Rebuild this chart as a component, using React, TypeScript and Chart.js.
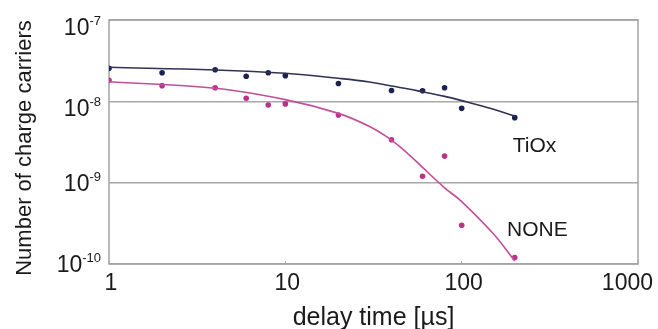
import React, { useEffect, useRef } from "react";
import { Chart, registerables } from "chart.js";

Chart.register(...registerables);

const xTicks = [1, 10, 100, 1000];
const yExponents = [-10, -9, -8, -7];
const delayTimes = [1, 2, 4, 6, 8, 10, 20, 40, 60, 80, 100, 200];
const tioxValues = [2.55e-8, 2.25e-8, 2.45e-8, 2.03e-8, 2.25e-8, 2.07e-8, 1.66e-8, 1.36e-8, 1.35e-8, 1.47e-8, 8.2e-9, 6.3e-9];
const noneValues = [1.81e-8, 1.56e-8, 1.47e-8, 1.09e-8, 9.0e-9, 9.3e-9, 6.8e-9, 3.37e-9, 1.2e-9, 2.12e-9, 3.0e-10, 1.2e-10];
const fitTimes = [1, 4, 10, 20, 30, 40, 50, 60, 80, 100, 150, 200];
const tioxFit = [2.62e-8, 2.43e-8, 2.21e-8, 1.92e-8, 1.73e-8, 1.54e-8, 1.42e-8, 1.31e-8, 1.15e-8, 1.02e-8, 8.03e-9, 6.59e-9];
const noneFit = [1.74e-8, 1.45e-8, 1.05e-8, 7.11e-9, 4.9e-9, 3.34e-9, 2.23e-9, 1.54e-9, 8.65e-10, 5.86e-10, 2.4e-10, 1.09e-10];
const seriesLabels = ["TiOx", "NONE"];
const labelX = [195, 181];
const labelY = [2.38e-9, 2.2e-10];
const xTitle = "delay time [µs]";
const yTitle = "Number of charge carriers";

const FONT = "'Liberation Sans', Arial, sans-serif";
const TIOX_COLOR = "#1d2150";
const NONE_COLOR = "#b8328a";

const textPlugin = {
  id: "customText",
  beforeDatasetsDraw(chart: any) {
    const { ctx, chartArea: a, scales } = chart;
    ctx.save();
    ctx.strokeStyle = "#a3a3a3";
    ctx.lineWidth = 1.5;
    ctx.strokeRect(a.left, a.top, a.right - a.left, a.bottom - a.top);
    ctx.lineWidth = 1;
    for (const t of xTicks) {
      const px = scales.x.getPixelForValue(t);
      ctx.beginPath();
      ctx.moveTo(px, a.bottom);
      ctx.lineTo(px, a.bottom - 3);
      ctx.stroke();
    }
    ctx.restore();
  },
  afterDraw(chart: any) {
    const { ctx, chartArea: a, scales } = chart;
    ctx.save();
    ctx.fillStyle = "#1a1a1a";
    yExponents.forEach((e, i) => {
      const py = scales.y.getPixelForValue(Math.pow(10, e));
      const base = py + (i >= 2 ? 15 : 8);
      const sup = "-" + String(-e);
      ctx.font = `13px ${FONT}`;
      const supW = ctx.measureText(sup).width;
      const right = a.left - 8;
      ctx.textAlign = "left";
      ctx.textBaseline = "alphabetic";
      ctx.fillText(sup, right - supW, base - 10);
      ctx.font = `23px ${FONT}`;
      ctx.textAlign = "right";
      ctx.fillText("10", right - supW, base);
    });
    ctx.font = `23px ${FONT}`;
    ctx.textBaseline = "alphabetic";
    xTicks.forEach((t, i) => {
      const px = scales.x.getPixelForValue(t);
      if (i === xTicks.length - 1) {
        ctx.textAlign = "right";
        ctx.fillText(String(t), px + 15, a.bottom + 26);
      } else {
        ctx.textAlign = "center";
        ctx.fillText(String(t), px + 2, a.bottom + 26);
      }
    });
    ctx.font = `25px ${FONT}`;
    ctx.textAlign = "center";
    ctx.fillText(xTitle, (a.left + a.right) / 2, a.bottom + 61);
    ctx.font = `22px ${FONT}`;
    ctx.save();
    ctx.translate(31, 148);
    ctx.rotate(-Math.PI / 2);
    ctx.fillText(yTitle, 0, 0);
    ctx.restore();
    ctx.font = `21px ${FONT}`;
    ctx.textAlign = "left";
    seriesLabels.forEach((s, i) => {
      ctx.fillText(s, scales.x.getPixelForValue(labelX[i]), scales.y.getPixelForValue(labelY[i]));
    });
    ctx.restore();
  },
};

export default function App() {
  const ref = useRef<HTMLCanvasElement>(null);
  useEffect(() => {
    if (!ref.current) return;
    const chart = new Chart(ref.current, {
      type: "scatter",
      data: {
        datasets: [
          {
            label: "TiOx fit",
            data: fitTimes.map((x, i) => ({ x, y: tioxFit[i] })),
            showLine: true,
            borderColor: "#2f3356",
            borderWidth: 1.6,
            pointRadius: 0,
            tension: 0.4,
          },
          {
            label: "NONE fit",
            data: fitTimes.map((x, i) => ({ x, y: noneFit[i] })),
            showLine: true,
            borderColor: "#c24f9a",
            borderWidth: 1.6,
            pointRadius: 0,
            tension: 0.4,
          },
          {
            label: "TiOx",
            data: delayTimes.map((x, i) => ({ x, y: tioxValues[i] })),
            backgroundColor: TIOX_COLOR,
            borderColor: TIOX_COLOR,
            pointRadius: 2.8,
            borderWidth: 0,
          },
          {
            label: "NONE",
            data: delayTimes.map((x, i) => ({ x, y: noneValues[i] })),
            backgroundColor: NONE_COLOR,
            borderColor: NONE_COLOR,
            pointRadius: 2.8,
            borderWidth: 0,
          },
        ],
      },
      options: {
        responsive: false,
        animation: false,
        layout: { padding: { left: 109, top: 20, right: 20, bottom: 65 } },
        plugins: { legend: { display: false }, tooltip: { enabled: false } },
        scales: {
          x: {
            type: "logarithmic",
            min: 1,
            max: 1000,
            ticks: { display: false },
            grid: { display: false, drawTicks: false },
            border: { display: false },
          },
          y: {
            type: "logarithmic",
            min: 1e-10,
            max: 1e-7,
            afterBuildTicks: (scale: any) => {
              scale.ticks = yExponents.map((e) => ({ value: Math.pow(10, e) }));
            },
            ticks: { display: false },
            grid: { color: "#a8a8a8", lineWidth: 1.5, drawTicks: false },
            border: { display: false },
          },
        },
      },
      plugins: [textPlugin],
    } as any);
    return () => chart.destroy();
  }, []);
  return (
    <div style={{ position: "fixed", left: 0, top: 0, width: 658, height: 329, background: "#fff" }}>
      <canvas ref={ref} width={658} height={329} />
    </div>
  );
}
